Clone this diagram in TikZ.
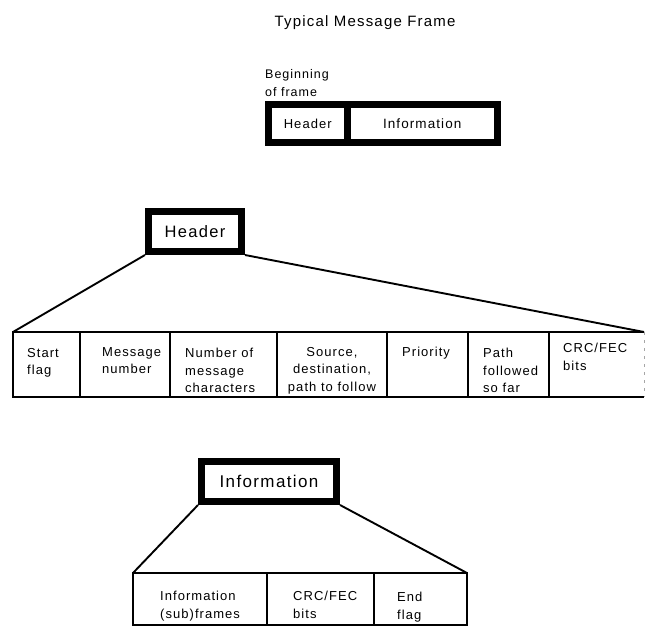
\documentclass[tikz,border=0pt]{standalone}
\usepackage{fontspec}
\setmainfont{Liberation Sans}[LetterSpace=8]
\begin{document}
\begin{tikzpicture}[x=1pt,y=-1pt,
  thickbox/.style={draw, line width=7pt, inner sep=0pt},
  cell/.style={draw, line width=1.9pt, outer sep=0pt, inner sep=0pt, anchor=north west, minimum height=65pt},
  bcell/.style={cell, minimum height=52pt},
  lbl/.style={anchor=north west, inner sep=0pt, align=left, font=\fontsize{13}{17.5}\selectfont},
  conn/.style={line width=1.9pt}]
\useasboundingbox (0,0) rectangle (646,626);

% title
\node[anchor=north, inner sep=0pt, font=\fontsize{15}{18}\selectfont] (title) at (365,15) {Typical Message Frame};
\node[lbl, font=\fontsize{12.5}{18}\selectfont] (begin) at (265,69) {Beginning\\of frame};

% top frame
\node[thickbox, minimum width=78.5pt, minimum height=38pt, font=\fontsize{13}{16}\selectfont] (fh) at (307.75,123.5) {Header};
\node[thickbox, minimum width=150.5pt, minimum height=38pt, font=\fontsize{13.5}{16}\selectfont] (fi) at (422.25,123.5) {Information};

% header expansion
\node[thickbox, minimum width=93pt, minimum height=40pt, font=\fontsize{16.5}{20}\selectfont] (hbig) at (195,231.5) {Header};

\node[cell, minimum width=67pt] (c1) at (13,332) {};
\node[cell, minimum width=90pt] (c2) at (80,332) {};
\node[cell, minimum width=107pt] (c3) at (170,332) {};
\node[cell, minimum width=110pt] (c4) at (277,332) {};
\node[cell, minimum width=81pt] (c5) at (387,332) {};
\node[cell, minimum width=81pt] (c6) at (468,332) {};
\node[cell, draw=none, minimum width=95pt] (c7) at (549,332) {};
\draw[line width=1.9pt] (c7.north east) -- (c7.north west) -- (c7.south west) -- (c7.south east);
\draw[line width=0.8pt, black!35, dash pattern=on 3pt off 5pt] (c7.north east) -- (c7.south east);

\draw[conn] (hbig.south west) -- (c1.north west);
\draw[conn] (hbig.south east) -- (c7.north east);

\node[lbl] (l1) at (27,348) {Start\\flag};
\node[lbl] (l2) at (102,347) {Message\\number};
\node[lbl] (l3) at (185,348) {Number of\\message\\characters};
\node[lbl, anchor=north, align=center] (l4) at (332,347) {Source,\\destination,\\path to follow};
\node[lbl] (l5) at (402,347) {Priority};
\node[lbl] (l6) at (483,348) {Path\\followed\\so far};
\node[lbl] (l7) at (563,343) {CRC/FEC\\bits};

% information expansion
\node[thickbox, minimum width=135pt, minimum height=40pt, font=\fontsize{17}{20}\selectfont] (ibig) at (269,481.5) {Information};

\node[bcell, minimum width=134pt] (d1) at (133,573) {};
\node[bcell, minimum width=107pt] (d2) at (267,573) {};
\node[bcell, minimum width=93pt] (d3) at (374,573) {};

\draw[conn] (ibig.south west) -- (d1.north west);
\draw[conn] (ibig.south east) -- (d3.north east);

\node[lbl] (m1) at (160,591) {Information\\(sub)frames};
\node[lbl] (m2) at (293,591) {CRC/FEC\\bits};
\node[lbl] (m3) at (397,592) {End\\flag};
\end{tikzpicture}
\end{document}
